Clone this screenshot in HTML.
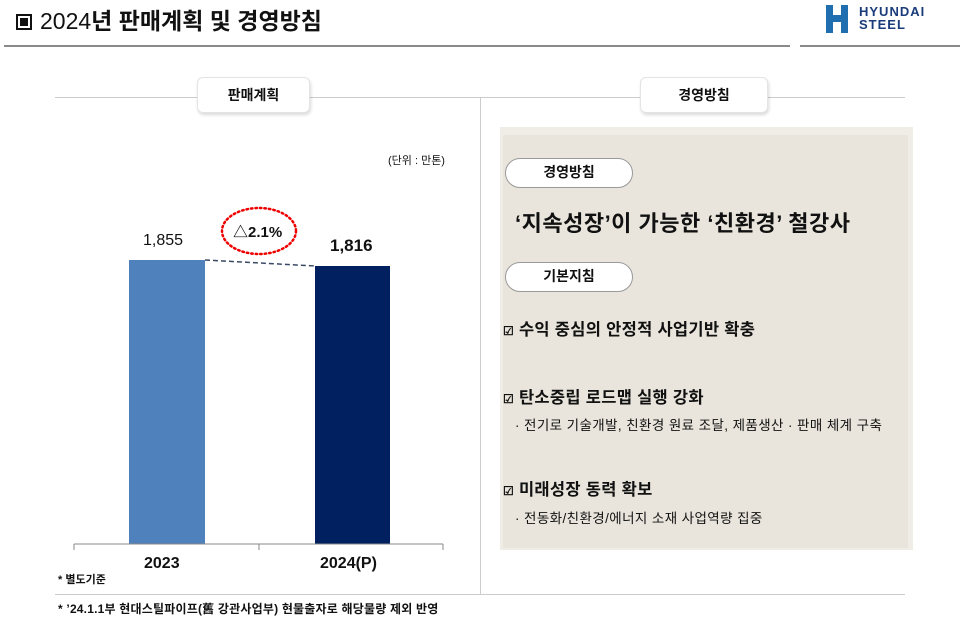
<!DOCTYPE html>
<html><head><meta charset="utf-8"><style>
*{margin:0;padding:0;box-sizing:border-box}
body{width:960px;height:624px;background:#fff;position:relative;overflow:hidden;font-family:"Liberation Sans","Noto Sans CJK KR",sans-serif;color:#111}
.a{position:absolute;white-space:nowrap}
.hb{position:absolute;background:#fff;border:1px solid #e4e4e4;border-radius:6px;box-shadow:1px 2px 3px rgba(0,0,0,.15);font-weight:bold;font-size:14px;text-align:center;line-height:34px}
.pill{position:absolute;background:#fff;border:1.5px solid #999;border-radius:16px;font-weight:bold;font-size:14px;text-align:center;line-height:27px;width:128px;height:30px}
.it{position:absolute;font-weight:bold;font-size:16.5px;white-space:nowrap;letter-spacing:0.3px}
.sub{position:absolute;font-size:13.5px;white-space:nowrap;letter-spacing:0.4px}
</style></head><body>
<div class="a" style="left:16px;top:6px;font-size:23px;line-height:30px"><span style="display:inline-block;width:16px;height:16px;border:2px solid #111;position:relative;top:1px;margin-right:8px"><span style="position:absolute;left:2px;top:2px;width:8px;height:8px;background:#111"></span></span>2024<b>년 판매계획 및 경영방침</b></div>
<svg class="a" style="left:826px;top:5px" width="22" height="28"><path d="M0 0h7v10h8V0h7v28h-7V17H7v11H0z" fill="#1f6fb0"/></svg>
<div class="a" style="left:859px;top:5px;font-size:13px;font-weight:bold;color:#1a3c7a;line-height:13px;letter-spacing:1px">HYUNDAI<br>STEEL</div>
<div class="a" style="left:4px;top:45px;width:786px;height:2px;background:#8a8a8a"></div>
<div class="a" style="left:800px;top:45px;width:160px;height:2px;background:#8a8a8a"></div>
<div class="a" style="left:55px;top:97px;width:850px;height:1px;background:#ccc"></div>
<div class="a" style="left:480px;top:97px;width:1px;height:497px;background:#ccc"></div>
<div class="a" style="left:55px;top:594px;width:850px;height:1px;background:#ccc"></div>
<div class="hb" style="left:197px;top:77px;width:113px;height:36px">판매계획</div>
<div class="hb" style="left:640px;top:77px;width:128px;height:36px">경영방침</div>
<div class="a" style="left:388px;top:152px;font-size:11px">(단위 : 만톤)</div>
<svg class="a" style="left:0;top:0" width="480" height="600">
<rect x="129" y="260" width="76" height="284" fill="#4f81bd"/>
<rect x="315" y="266" width="75" height="278" fill="#002060"/>
<line x1="205" y1="260" x2="315" y2="266" stroke="#3a4a66" stroke-width="1.5" stroke-dasharray="5,3"/>
<line x1="74" y1="544" x2="443" y2="544" stroke="#888"/>
<line x1="74" y1="544" x2="74" y2="550" stroke="#888"/><line x1="259" y1="544" x2="259" y2="550" stroke="#888"/><line x1="443" y1="544" x2="443" y2="550" stroke="#888"/>
<ellipse cx="259" cy="231" rx="37" ry="23" fill="none" stroke="#e00" stroke-width="2.5" stroke-dasharray="1.5,3" stroke-linecap="round"/>
</svg>
<div class="a" style="left:143px;top:232px;font-size:16px">1,855</div>
<div class="a" style="left:330px;top:236px;font-size:17px;font-weight:bold">1,816</div>
<div class="a" style="left:233px;top:221px;font-size:15px;font-weight:bold">△2.1%</div>
<div class="a" style="left:144px;top:555px;font-size:16px;font-weight:bold">2023</div>
<div class="a" style="left:320px;top:555px;font-size:16px;font-weight:bold">2024(P)</div>
<div class="a" style="left:58px;top:571px;font-size:11px;font-weight:bold">* 별도기준</div>
<div class="a" style="left:58px;top:600px;font-size:12px;font-weight:bold;letter-spacing:0.2px">* ’24.1.1부 현대스틸파이프(舊 강관사업부) 현물출자로 해당물량 제외 반영</div>
<div class="a" style="left:500px;top:127px;width:413px;height:423px;background:#efede6"></div>
<div class="a" style="left:503px;top:135px;width:405px;height:413px;background:#e9e5dc"></div>
<div class="pill" style="left:505px;top:158px">경영방침</div>
<div class="a" style="left:515px;top:206px;font-size:22px;font-weight:bold;letter-spacing:0.5px">‘지속성장’이 가능한 ‘친환경’ 철강사</div>
<div class="pill" style="left:505px;top:262px">기본지침</div>
<div class="it" style="left:503px;top:316px"><span style="font-size:12px">☑</span> 수익 중심의 안정적 사업기반 확충</div>
<div class="it" style="left:503px;top:384px"><span style="font-size:12px">☑</span> 탄소중립 로드맵 실행 강화</div>
<div class="sub" style="left:515px;top:414px">· 전기로 기술개발, 친환경 원료 조달, 제품생산 · 판매 체계 구축</div>
<div class="it" style="left:503px;top:476px"><span style="font-size:12px">☑</span> 미래성장 동력 확보</div>
<div class="sub" style="left:515px;top:507px">· 전동화/친환경/에너지 소재 사업역량 집중</div>
</body></html>
